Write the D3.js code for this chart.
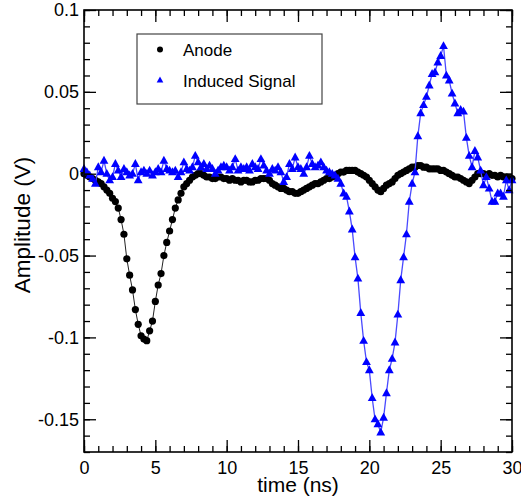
<!DOCTYPE html>
<html>
<head>
<meta charset="utf-8">
<script src="https://cdn.jsdelivr.net/npm/d3@7"></script>
<style>
  body { margin: 0; background: #fff; }
  svg { display: block; font-family: "Liberation Sans", Arial, sans-serif; }
</style>
</head>
<body>
<div id="chart"></div>
<script>
var w = 521;
var h = 497;

// sample times (ns)
var timeNs = [
  0,0.2,0.4,0.6,0.8,1,1.2,1.4,1.6,1.8,
  2,2.2,2.4,2.6,2.8,3,3.2,3.4,3.6,3.8,
  4,4.2,4.4,4.6,4.8,5,5.2,5.4,5.6,5.8,
  6,6.2,6.4,6.6,6.8,7,7.2,7.4,7.6,7.8,
  8,8.2,8.4,8.6,8.8,9,9.2,9.4,9.6,9.8,
  10,10.2,10.4,10.6,10.8,11,11.2,11.4,11.6,11.8,
  12,12.2,12.4,12.6,12.8,13,13.2,13.4,13.6,13.8,
  14,14.2,14.4,14.6,14.8,15,15.2,15.4,15.6,15.8,
  16,16.2,16.4,16.6,16.8,17,17.2,17.4,17.6,17.8,
  18,18.2,18.4,18.6,18.8,19,19.2,19.4,19.6,19.8,
  20,20.2,20.4,20.6,20.8,21,21.2,21.4,21.6,21.8,
  22,22.2,22.4,22.6,22.8,23,23.2,23.4,23.6,23.8,
  24,24.2,24.4,24.6,24.8,25,25.2,25.4,25.6,25.8,
  26,26.2,26.4,26.6,26.8,27,27.2,27.4,27.6,27.8,
  28,28.2,28.4,28.6,28.8,29,29.2,29.4,29.6,29.8,
  30
];

// anode amplitude (V)
var anode = [
  0.000,-0.001,-0.002,-0.003,-0.004,-0.005,-0.006,-0.008,-0.010,-0.012,
  -0.015,-0.017,-0.021,-0.028,-0.037,-0.052,-0.062,-0.071,-0.083,-0.092,
  -0.099,-0.101,-0.102,-0.096,-0.090,-0.078,-0.068,-0.061,-0.050,-0.042,
  -0.035,-0.028,-0.021,-0.016,-0.012,-0.008,-0.006,-0.004,-0.002,-0.001,
  0.000,0.000,-0.001,-0.002,-0.002,-0.003,-0.003,-0.002,-0.002,-0.003,
  -0.003,-0.004,-0.003,-0.004,-0.004,-0.005,-0.004,-0.004,-0.005,-0.005,
  -0.004,-0.004,-0.003,-0.003,-0.003,-0.004,-0.006,-0.007,-0.008,-0.009,
  -0.009,-0.010,-0.011,-0.011,-0.012,-0.012,-0.011,-0.010,-0.009,-0.008,
  -0.007,-0.006,-0.006,-0.005,-0.004,-0.003,-0.003,-0.002,-0.001,0.000,
  0.001,0.001,0.002,0.002,0.002,0.002,0.001,0.000,-0.001,-0.002,
  -0.004,-0.006,-0.008,-0.010,-0.011,-0.009,-0.007,-0.006,-0.005,-0.003,
  -0.001,0.000,0.001,0.002,0.003,0.004,0.004,0.005,0.005,0.004,
  0.004,0.003,0.003,0.003,0.003,0.002,0.002,0.001,0.000,-0.001,
  -0.002,-0.002,-0.003,-0.004,-0.005,-0.006,-0.004,-0.002,0.000,0.000,
  0.000,-0.001,0.000,-0.001,-0.001,-0.002,-0.001,-0.002,-0.002,-0.003,
  -0.003
];

// induced signal amplitude (V)
var induced = [
  0.003,0.001,-0.001,-0.003,-0.006,0.004,0.001,0.008,0.000,-0.004,
  -0.002,0.006,0.002,-0.002,0.003,0.001,-0.001,0.000,0.006,-0.004,
  0.001,0.002,0.000,0.002,-0.001,0.001,0.003,0.001,0.008,0.003,
  0.002,0.001,0.002,-0.002,0.001,0.007,0.003,0.002,0.004,0.011,
  0.007,0.004,0.006,0.003,0.005,0.003,0.000,0.002,0.004,0.005,
  0.004,0.002,0.004,0.009,0.002,0.004,0.003,0.004,0.002,0.006,
  0.004,0.003,0.009,0.005,0.002,0.000,0.003,0.002,0.004,0.001,
  -0.005,-0.002,0.006,0.003,0.010,0.004,0.003,0.000,0.004,0.011,
  0.006,0.004,0.005,0.007,0.004,0.002,0.001,0.000,-0.001,-0.003,
  -0.006,-0.012,-0.014,-0.023,-0.034,-0.051,-0.064,-0.085,-0.102,-0.115,
  -0.120,-0.137,-0.150,-0.153,-0.158,-0.149,-0.134,-0.120,-0.113,-0.103,
  -0.086,-0.065,-0.051,-0.037,-0.017,-0.006,0.001,0.023,0.037,0.042,
  0.047,0.054,0.061,0.062,0.068,0.072,0.078,0.060,0.057,0.049,
  0.043,0.037,0.039,0.038,0.022,0.011,0.004,0.014,0.010,0.002,
  -0.007,-0.002,-0.009,-0.017,-0.017,-0.012,-0.012,-0.014,-0.004,-0.010,
  -0.004
];

var xMajor = [0, 5, 10, 15, 20, 25, 30];
var xMinor = d3.range(0, 31, 1);
var yMajor = [0.1, 0.05, 0, -0.05, -0.1, -0.15];
var yTickLabels = ["0.1", "0.05", "0", "-0.05", "-0.1", "-0.15"];
var yMinor = d3.range(-17, 11, 1).map(function(d) { return d / 100; });

var seriesNames = ["Anode", "Induced Signal"];

// plot frame edges (pixels)
var pLeft = 84, pRight = 512, pTop = 10, pBottom = 452;

var svg = d3.select("#chart")
    .append("svg")
    .attr("width", w)
    .attr("height", h);

var xScale = d3.scaleLinear().domain([0, 30]).range([pLeft, pRight]);
var yScale = d3.scaleLinear().domain([-0.17, 0.1]).range([pBottom, pTop]);

var anodeData = timeNs.map(function(t, i) { return { t: t, v: anode[i] }; });
var inducedData = timeNs.map(function(t, i) { return { t: t, v: induced[i] }; });

var line = d3.line()
    .x(function(d) { return xScale(d.t); })
    .y(function(d) { return yScale(d.v); });

var triangle = "M0,-4.8L4.4,3.1L-4.4,3.1Z";

// anode series
svg.append("path")
    .datum(anodeData)
    .attr("d", line)
    .attr("fill", "none")
    .attr("stroke", "#222")
    .attr("stroke-width", 1);

svg.selectAll("circle.anode")
    .data(anodeData)
    .enter().append("circle")
    .attr("class", "anode")
    .attr("cx", function(d) { return xScale(d.t); })
    .attr("cy", function(d) { return yScale(d.v); })
    .attr("r", 3.6)
    .attr("fill", "#000");

// induced signal series
svg.append("path")
    .datum(inducedData)
    .attr("d", line)
    .attr("fill", "none")
    .attr("stroke", "#4a4aff")
    .attr("stroke-width", 1.3);

svg.selectAll("path.induced")
    .data(inducedData)
    .enter().append("path")
    .attr("class", "induced")
    .attr("d", triangle)
    .attr("transform", function(d) { return "translate(" + xScale(d.t) + "," + yScale(d.v) + ")"; })
    .attr("fill", "#0000ff");

// axes, ticks pointing inward on all four sides
function styleAxis(g) {
    g.select(".domain").remove();
    g.selectAll(".tick line").attr("stroke", "#000").attr("stroke-width", 1.3);
    g.selectAll(".tick text").attr("fill", "#000").style("font-size", "18px")
        .style("font-family", "'Liberation Sans', Arial, sans-serif");
}

svg.append("g")
    .attr("transform", "translate(0," + pBottom + ")")
    .call(d3.axisBottom(xScale).tickValues(xMinor).tickSize(-6).tickFormat(""))
    .call(styleAxis);
svg.append("g")
    .attr("transform", "translate(0," + pBottom + ")")
    .call(d3.axisBottom(xScale).tickValues(xMajor).tickSize(-12).tickPadding(9).tickFormat(function(d) { return d; }))
    .call(styleAxis);

svg.append("g")
    .attr("transform", "translate(0," + pTop + ")")
    .call(d3.axisTop(xScale).tickValues(xMinor).tickSize(-6).tickFormat(""))
    .call(styleAxis);
svg.append("g")
    .attr("transform", "translate(0," + pTop + ")")
    .call(d3.axisTop(xScale).tickValues(xMajor).tickSize(-12).tickFormat(""))
    .call(styleAxis);

svg.append("g")
    .attr("transform", "translate(" + pLeft + ",0)")
    .call(d3.axisLeft(yScale).tickValues(yMinor).tickSize(-6).tickFormat(""))
    .call(styleAxis);
svg.append("g")
    .attr("transform", "translate(" + pLeft + ",0)")
    .call(d3.axisLeft(yScale).tickValues(yMajor).tickSize(-12).tickPadding(5)
        .tickFormat(function(d, i) { return yTickLabels[i]; }))
    .call(styleAxis);

svg.append("g")
    .attr("transform", "translate(" + pRight + ",0)")
    .call(d3.axisRight(yScale).tickValues(yMinor).tickSize(-6).tickFormat(""))
    .call(styleAxis);
svg.append("g")
    .attr("transform", "translate(" + pRight + ",0)")
    .call(d3.axisRight(yScale).tickValues(yMajor).tickSize(-12).tickFormat(""))
    .call(styleAxis);

// frame
svg.append("rect")
    .attr("x", pLeft)
    .attr("y", pTop)
    .attr("width", pRight - pLeft)
    .attr("height", pBottom - pTop)
    .attr("fill", "none")
    .attr("stroke", "#000")
    .attr("stroke-width", 1.6);

// axis titles
svg.append("text")
    .attr("x", 298)
    .attr("y", 492)
    .attr("text-anchor", "middle")
    .style("font-size", "21px")
    .text("time (ns)");

svg.append("text")
    .attr("transform", "translate(30,225) rotate(-90)")
    .attr("text-anchor", "middle")
    .style("font-size", "22.5px")
    .text("Amplitude (V)");

// legend
var legend = svg.append("g");
legend.append("rect")
    .attr("x", 137)
    .attr("y", 34)
    .attr("width", 185)
    .attr("height", 70)
    .attr("fill", "#fff")
    .attr("stroke", "#444")
    .attr("stroke-width", 1.2);
legend.append("circle")
    .attr("cx", 160)
    .attr("cy", 49.5)
    .attr("r", 3)
    .attr("fill", "#000");
legend.append("path")
    .attr("d", "M0,-3.6L3.3,2.4L-3.3,2.4Z")
    .attr("transform", "translate(160,80)")
    .attr("fill", "#0000ff");
legend.selectAll("text")
    .data(seriesNames)
    .enter().append("text")
    .attr("x", 183)
    .attr("y", function(d, i) { return 56 + i * 30.5; })
    .style("font-size", "17px")
    .text(function(d) { return d; });
</script>
</body>
</html>
